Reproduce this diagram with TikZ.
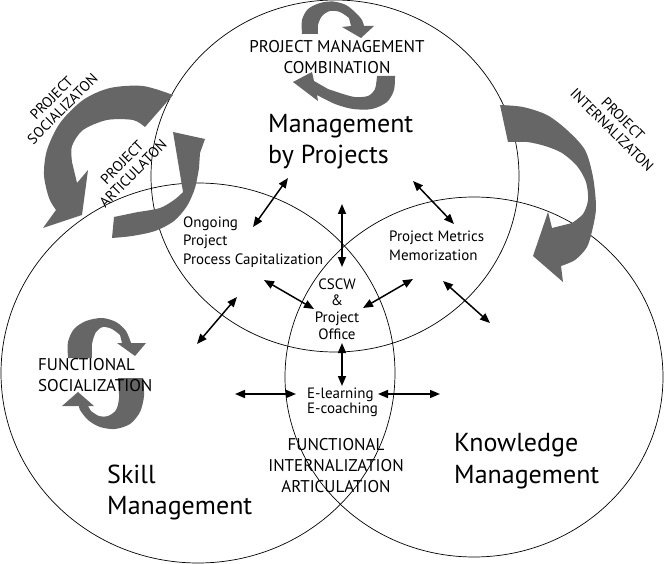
\documentclass[tikz,border=0pt]{standalone}
\usepackage{fontspec}
\setmainfont{PT Sans}
\usetikzlibrary{arrows.meta}
\definecolor{ag}{RGB}{102,102,102}
\tikzset{
  ring/.style={draw=black,line width=0.7pt},
  garrow/.style={fill=ag},
  dbl/.style={{Triangle[length=10pt,width=8pt]}-{Triangle[length=10pt,width=8pt]},line width=1.5pt},
  lab/.style={inner sep=0pt,font=\fontsize{15}{18.5}\selectfont,align=left},
  capsl/.style={inner sep=0pt,font=\fontsize{17}{21}\selectfont},
  bigl/.style={inner sep=0pt,font=\fontsize{26}{31}\selectfont,align=left},
  rotl/.style={inner sep=0pt,font=\fontsize{14.5}{15.5}\selectfont,align=center}
}
\begin{document}
\begin{tikzpicture}[x=1pt,y=-1pt]
\useasboundingbox (0,0) rectangle (664,564);
% circles
\draw[ring] (335,176) ellipse [x radius=184pt, y radius=176pt];
\draw[ring] (198,373) ellipse [x radius=197pt, y radius=190pt];
\draw[ring] (474,377) ellipse [x radius=189pt, y radius=180pt];
% top cycle
\fill[garrow] plot[smooth] coordinates {(302,34) (302,20) (308,9) (320,3) (333,1.5) (346,5) (356,13) (362,20) (364,26)} -- (374,26) -- (361,38) -- (342,27) -- (351,26) -- plot[smooth] coordinates {(349,18) (340,12) (330,11) (322,16) (318,25) (318,34)} -- cycle;
\fill[garrow] plot[smooth] coordinates {(395,76) (394,90) (387,102) (372,109) (353,109) (335,104) (317,95)} -- (318,101) -- (293,82) -- (312,72) -- (314,81) -- plot[smooth] coordinates {(328,89) (343,94) (355,97) (368,96) (375,89) (377,76)} -- cycle;
% functional socialization cycle
\fill[garrow] plot[smooth] coordinates {(68,358) (68,342) (74,329) (86,321) (102,318) (116,322) (126,331) (131,343)} -- (146,343) -- (135,356) -- (117,343) -- (122,343) -- plot[smooth] coordinates {(120,335) (112,329) (103,327) (96,332) (92,344) (92,358)} -- cycle;
\fill[garrow] plot[smooth] coordinates {(143,378) (144,396) (140,412) (130,424) (115,429) (100,427) (88,420) (80,410) (79,406)} -- (62,406) -- (78,392) -- (94,406) -- (88,406) -- plot[smooth] coordinates {(91,411) (99,416) (108,416) (116,410) (119,398) (118,378)} -- cycle;
% left big cycle
\fill[garrow] plot[smooth] coordinates {(173,95) (143,86) (110,88) (83,100) (60,123) (47,150) (44,175) (49,198) (56,210)} -- (43,228) -- (82,215) -- (88,170) -- (77,183) -- plot[smooth] coordinates {(72,162) (72,146) (83,130) (107,120) (133,120) (145,127)} -- cycle;
\fill[garrow] (173,132) -- (205,139) -- (200,153) -- plot[smooth] coordinates {(199,168) (195,188) (187,206) (174,221) (155,231) (132,236) (112,238)} -- (114,217) -- plot[smooth] coordinates {(138,212) (160,208) (174,200) (181,194)} -- (183,192) -- cycle;
% right arrow
\fill[garrow] plot[smooth] coordinates {(500,105) (523,107) (547,115) (567,130) (585,150) (593,177) (596,207) (593,227) (587,247) (575,260) (561,266)} -- (563,282) -- (533,256) -- (548,212) -- (552,228) -- plot[smooth] coordinates {(572,223) (583,214) (588,200) (586,182) (577,166) (562,153) (545,146) (527,142) (508,142)} -- cycle;
% arrow end points
\coordinate (a1s) at (253,227); \coordinate (a1e) at (288,178);
\coordinate (a2s) at (342,204); \coordinate (a2e) at (342,267);
\coordinate (a3s) at (413,181); \coordinate (a3e) at (454,224);
\coordinate (a4s) at (264,280); \coordinate (a4e) at (314,309);
\coordinate (a5s) at (363,308); \coordinate (a5e) at (413,279);
\coordinate (a6s) at (443,281); \coordinate (a6e) at (490,323);
\coordinate (a7s) at (197,344); \coordinate (a7e) at (237,297);
\coordinate (a8s) at (342,343); \coordinate (a8e) at (342,386);
\coordinate (a9s) at (235,394); \coordinate (a9e) at (296,394);
\coordinate (a10s) at (378,394); \coordinate (a10e) at (440,394);
\foreach \i in {1,...,10} {\draw[dbl] (a\i s) -- (a\i e);}
% texts
\node[capsl,align=center] (pmc) at (337,57.5) {PROJECT MANAGEMENT\\COMBINATION};
\node[bigl,anchor=west] (mbp) at (268,142) {Management\\by Projects};
\node[lab,anchor=west] (ong) at (183,242) {Ongoing\\Project\\Process Capitalization};
\node[lab,anchor=west,font=\fontsize{15}{19}\selectfont] (pmm) at (389,246) {Project Metrics\\Memorization};
\node[lab,align=center,font=\fontsize{15}{16.7}\selectfont] (cscw) at (337,309) {CSCW\\\&\\Project\\Office};
\node[lab,anchor=west,font=\fontsize{15}{15.3}\selectfont] (el) at (307,402) {E-learning\\E-coaching};
\node[capsl,align=center] (fia) at (336,466) {FUNCTIONAL\\INTERNALIZATION\\ARTICULATION};
\node[capsl,align=left,anchor=west] (fs) at (38,375.5) {FUNCTIONAL\\SOCIALIZATION};
\node[bigl,anchor=west] (sk) at (107,492) {Skill\\Management};
\node[bigl,anchor=west,font=\fontsize{26}{32}\selectfont] (km) at (454,461) {Knowledge\\Management};
\node[rotl,rotate=45] (psoc) at (57,103.5) {PROJECT\\SOCIALIZATON};
\node[rotl,rotate=45] (part) at (127.5,168) {PROJECT\\ARTICULATON};
\node[rotl,rotate=-45] (pint) at (617.5,124.5) {PROJECT\\INTERNALIZATON};
\end{tikzpicture}
\end{document}
